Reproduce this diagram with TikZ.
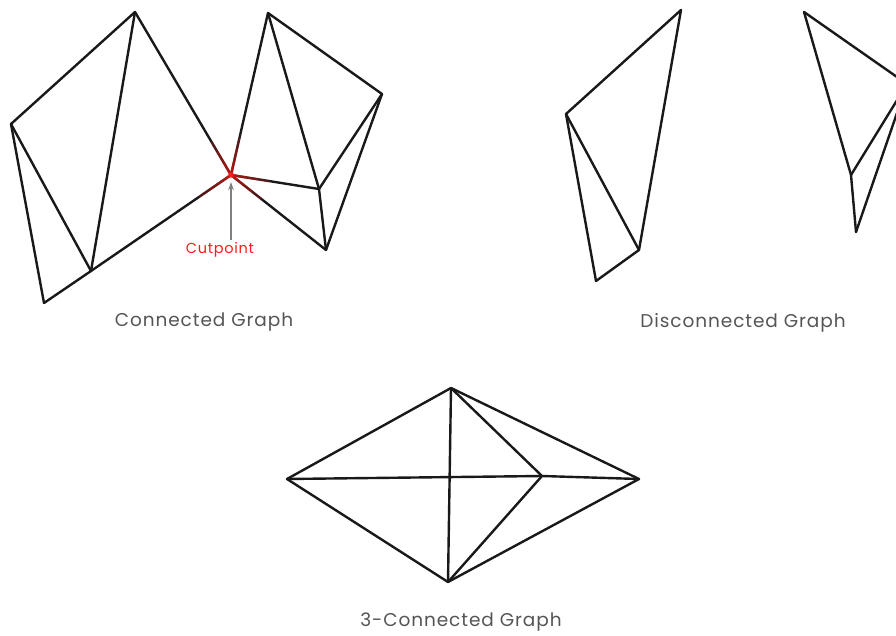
\documentclass[tikz,border=0pt]{standalone}
\usepackage{fontspec}
\setmainfont{Poppins}
\usetikzlibrary{arrows.meta,calc}
\definecolor{lbl}{HTML}{555555}
\definecolor{cutred}{HTML}{FF1A1A}
\tikzset{
  edge/.style={line width=2.4pt, black!90, line cap=round, line join=round},
  glow/.style={line width=2.4pt, cutred!85!black, opacity=0.3, line cap=round},
  caption/.style={text=lbl, font=\fontsize{18.5}{22}\selectfont\addfontfeatures{LetterSpace=5}, inner sep=0pt},
}
\begin{document}
\begin{tikzpicture}[x=1pt,y=-1pt]
\useasboundingbox (0,0) rectangle (896,636);
\clip (0,0) rectangle (896,636);
% ---------- Connected graph ----------
\coordinate (A) at (135,12);
\coordinate (B) at (11,124);
\coordinate (C) at (44,303);
\coordinate (D) at (91,271);
\coordinate (E) at (231,175);
\coordinate (F) at (268,13);
\coordinate (G) at (382,94);
\coordinate (H) at (319,189);
\coordinate (I) at (326,250);
\foreach \u/\v in {A/B,B/C,C/D,B/D,A/D,A/E,D/E,E/F,E/H,E/I,F/H,F/G,G/H,G/I,H/I}
  \draw[edge] (\u) -- (\v);
% red glow around the cutpoint
\foreach \v in {A,D,F,H,I}{
  \draw[glow] (E) -- ($(E)!38pt!(\v)$);
  \draw[glow] (E) -- ($(E)!26pt!(\v)$);
  \draw[glow] (E) -- ($(E)!15pt!(\v)$);
  \draw[glow] (E) -- ($(E)!7pt!(\v)$);
}
\fill[cutred, opacity=0.5] (E) circle (3.4pt);
\fill[cutred] (E) circle (2pt);
\node[text=cutred, font=\fontsize{14.5}{17}\selectfont\addfontfeatures{LetterSpace=5}, inner sep=0pt] (cutlbl) at (220,250) {Cutpoint};
\coordinate (arrstart) at (231,240);
\draw[line width=1.3pt, gray, -{Stealth[length=8pt,width=5.5pt]}, shorten >=7pt] (arrstart) -- (E);
\node[caption] (cap1) at (204,322.5) {Connected Graph};
% ---------- Disconnected graph ----------
\coordinate (J) at (681,10);
\coordinate (K) at (566,114);
\coordinate (L) at (596,281);
\coordinate (M) at (639,250);
\foreach \u/\v in {J/K,K/L,K/M,L/M,J/M}
  \draw[edge] (\u) -- (\v);
\coordinate (N) at (804,12);
\coordinate (O) at (851,175);
\coordinate (P) at (856,232);
\coordinate (Q) at (907,84);
\foreach \u/\v in {N/Q,N/O,O/Q,O/P,P/Q}
  \draw[edge] (\u) -- (\v);
\node[caption] (cap2) at (743,322.5) {Disconnected Graph};
% ---------- 3-connected graph ----------
\coordinate (T) at (451,388);
\coordinate (Lf) at (287,479);
\coordinate (X) at (542,476);
\coordinate (R) at (639,479);
\coordinate (Bt) at (448,582);
\foreach \u/\v in {T/Lf,T/R,T/X,T/Bt,Lf/X,X/R,Lf/Bt,X/Bt,R/Bt}
  \draw[edge] (\u) -- (\v);
\node[caption] (cap3) at (461,622.5) {3-Connected Graph};
\end{tikzpicture}
\end{document}
